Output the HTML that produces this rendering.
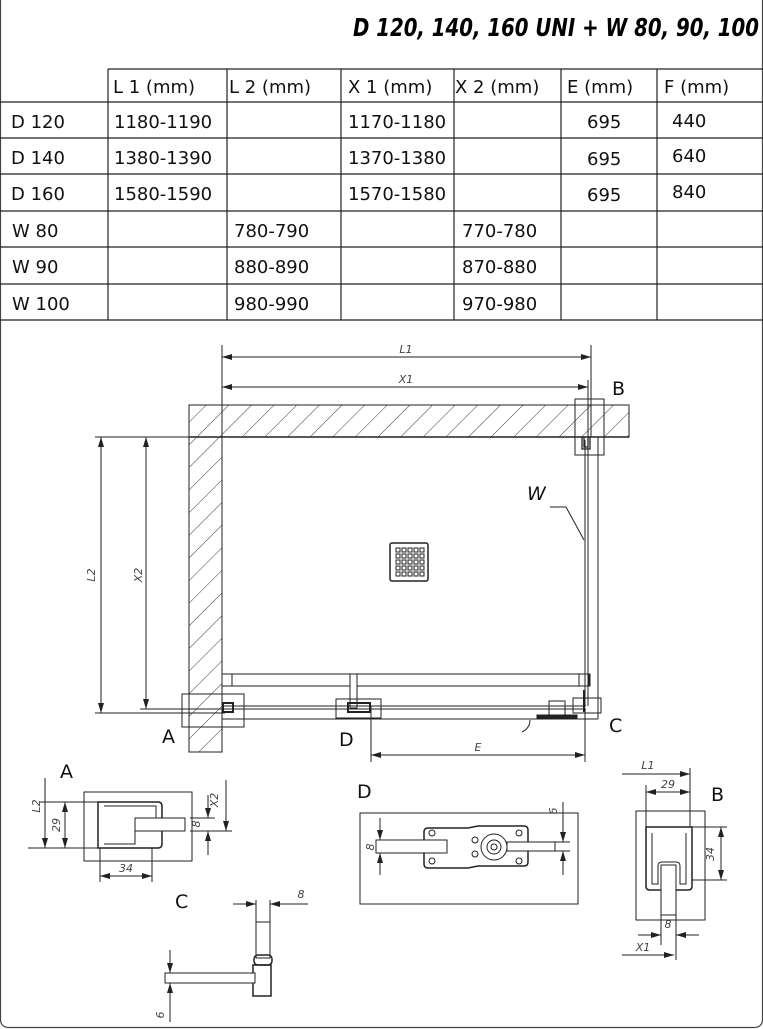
<!DOCTYPE html>
<html><head><meta charset="utf-8"><style>
html,body{margin:0;padding:0;background:#fff;}
svg{display:block;}
text{font-family:"DejaVu Sans","Liberation Sans",sans-serif;}
</style></head><body>
<svg width="763" height="1029" viewBox="0 0 763 1029" xmlns="http://www.w3.org/2000/svg">
<defs>
<pattern id="h" patternUnits="userSpaceOnUse" width="16" height="16" patternTransform="rotate(45)">
<line x1="0" y1="0" x2="0" y2="16" stroke="#222" stroke-width="0.9"/>
</pattern>
<marker id="a" viewBox="0 0 10 6" refX="10" refY="3" markerWidth="10" markerHeight="6" orient="auto-start-reverse" markerUnits="userSpaceOnUse">
<path d="M0,0 L10,3 L0,6 Z" fill="#222"/></marker>
</defs>
<!-- frame -->
<path d="M0.5,0 V1019 Q0.5,1027.5 9,1027.5 H754 Q762.5,1027.5 762.5,1019 V0" fill="none" stroke="#444" stroke-width="1.2"/>
<!-- title -->
<text x="759" y="36" text-anchor="end" font-family="Liberation Sans" font-weight="bold" font-style="italic" font-size="25" textLength="406" lengthAdjust="spacingAndGlyphs">D 120, 140, 160 UNI + W 80, 90, 100</text>
<!-- table -->
<g stroke="#222" stroke-width="1.2">
<line x1="108" y1="69" x2="763" y2="69"/>
<line x1="0" y1="102" x2="763" y2="102"/>
<line x1="0" y1="138" x2="763" y2="138"/>
<line x1="0" y1="174" x2="763" y2="174"/>
<line x1="0" y1="211" x2="763" y2="211"/>
<line x1="0" y1="247" x2="763" y2="247"/>
<line x1="0" y1="284" x2="763" y2="284"/>
<line x1="0" y1="320" x2="763" y2="320"/>
<line x1="108" y1="69" x2="108" y2="320"/>
<line x1="227" y1="69" x2="227" y2="320"/>
<line x1="341" y1="69" x2="341" y2="320"/>
<line x1="454" y1="69" x2="454" y2="320"/>
<line x1="561" y1="69" x2="561" y2="320"/>
<line x1="657" y1="69" x2="657" y2="320"/>
</g>
<g font-size="18" fill="#111">
<text x="113" y="93">L 1 (mm)</text><text x="229" y="93">L 2 (mm)</text><text x="348" y="93">X 1 (mm)</text><text x="455" y="93">X 2 (mm)</text><text x="567" y="93">E  (mm)</text><text x="664" y="93">F  (mm)</text>
<text x="11" y="128">D 120</text><text x="114" y="128">1180-1190</text><text x="348" y="128">1170-1180</text><text x="587" y="128">695</text><text x="672" y="127">440</text>
<text x="11" y="164">D 140</text><text x="114" y="164">1380-1390</text><text x="348" y="164">1370-1380</text><text x="587" y="165">695</text><text x="672" y="162">640</text>
<text x="11" y="200">D 160</text><text x="114" y="200">1580-1590</text><text x="348" y="200">1570-1580</text><text x="587" y="201">695</text><text x="672" y="198">840</text>
<text x="12" y="237">W 80</text><text x="234" y="237">780-790</text><text x="462" y="237">770-780</text>
<text x="12" y="273">W 90</text><text x="234" y="273">880-890</text><text x="462" y="273">870-880</text>
<text x="12" y="310">W 100</text><text x="234" y="310">980-990</text><text x="462" y="310">970-980</text>
</g>
<!-- main plan -->
<g stroke="#222" stroke-width="1" fill="none">
<rect x="189" y="405" width="440" height="32" fill="url(#h)"/>
<rect x="189" y="437" width="33" height="315" fill="url(#h)"/>
<line x1="189" y1="437" x2="629" y2="437" stroke-width="1.5"/>
<line x1="222" y1="405" x2="222" y2="752"/>
<line x1="598" y1="437" x2="598" y2="719"/>
<line x1="222" y1="719" x2="598" y2="719"/>
<!-- dims -->
<line x1="222" y1="345" x2="222" y2="405"/>
<line x1="591" y1="345" x2="591" y2="437"/>
<line x1="588" y1="380" x2="588" y2="437"/>
<line x1="222" y1="357" x2="591" y2="357" marker-start="url(#a)" marker-end="url(#a)"/>
<line x1="222" y1="387" x2="588" y2="387" marker-start="url(#a)" marker-end="url(#a)"/>
<line x1="95" y1="437" x2="189" y2="437"/>
<line x1="95" y1="713" x2="225" y2="713"/>
<line x1="101" y1="437" x2="101" y2="713" marker-start="url(#a)" marker-end="url(#a)"/>
<line x1="146" y1="437" x2="146" y2="709" marker-start="url(#a)" marker-end="url(#a)"/>
<line x1="140" y1="709" x2="225" y2="709"/>
<!-- glass W -->
<line x1="585" y1="440" x2="585" y2="706"/>
<line x1="588" y1="440" x2="588" y2="706"/>
<path d="M582,437 v12 h8 v-12 M584,437 v10 h4 v-10" stroke-width="1.3"/>
<!-- bar -->
<rect x="222" y="674" width="368" height="12"/>
<rect x="222" y="674" width="10" height="12"/>
<rect x="579" y="674" width="10" height="12"/>
<rect x="350" y="674" width="7" height="34" fill="#fff"/>
<!-- sliding glass -->
<line x1="222" y1="706" x2="586" y2="706"/>
<line x1="222" y1="709" x2="586" y2="709"/>
<rect x="223" y="703" width="10" height="9" stroke-width="2"/>
<rect x="348" y="703" width="22" height="9" stroke-width="2"/>
<!-- boxes -->
<rect x="182" y="694" width="62" height="33"/>
<rect x="336" y="699" width="45" height="19"/>
<rect x="573" y="698" width="28" height="15"/>
<rect x="575" y="399" width="29" height="56"/>
<!-- handle -->
<rect x="549" y="701" width="16" height="14"/>
<rect x="537" y="715" width="40" height="3" fill="#222"/>
<line x1="584" y1="690" x2="584" y2="712" stroke-width="2"/>
<!-- E -->
<line x1="371" y1="706" x2="371" y2="762"/>
<line x1="585" y1="709" x2="585" y2="762"/>
<line x1="371" y1="755" x2="585" y2="755" marker-start="url(#a)" marker-end="url(#a)"/>
<!-- drain -->
<rect x="390" y="543" width="38" height="38" rx="2" stroke-width="1.5"/>
<!-- W leader -->
<path d="M550,507 H566 L584,540"/>
<path d="M530,720 q0,8 -8,12" />
</g>
<g fill="none" stroke="#222" stroke-width="1">
<rect x="396" y="548" width="4" height="4"/><rect x="402" y="548" width="4" height="4"/><rect x="408" y="548" width="4" height="4"/><rect x="414" y="548" width="4" height="4"/><rect x="420" y="548" width="4" height="4"/>
<rect x="396" y="554" width="4" height="4"/><rect x="402" y="554" width="4" height="4"/><rect x="408" y="554" width="4" height="4"/><rect x="414" y="554" width="4" height="4"/><rect x="420" y="554" width="4" height="4"/>
<rect x="396" y="560" width="4" height="4"/><rect x="402" y="560" width="4" height="4"/><rect x="408" y="560" width="4" height="4"/><rect x="414" y="560" width="4" height="4"/><rect x="420" y="560" width="4" height="4"/>
<rect x="396" y="566" width="4" height="4"/><rect x="402" y="566" width="4" height="4"/><rect x="408" y="566" width="4" height="4"/><rect x="414" y="566" width="4" height="4"/><rect x="420" y="566" width="4" height="4"/>
<rect x="396" y="572" width="4" height="4"/><rect x="402" y="572" width="4" height="4"/><rect x="408" y="572" width="4" height="4"/><rect x="414" y="572" width="4" height="4"/><rect x="420" y="572" width="4" height="4"/>
</g>
<g font-size="11" font-style="italic" fill="#444">
<text x="406" y="353" text-anchor="middle">L1</text>
<text x="406" y="383" text-anchor="middle">X1</text>
<text x="478" y="751" text-anchor="middle">E</text>
<text transform="translate(95,575) rotate(-90)" text-anchor="middle">L2</text>
<text transform="translate(142,575) rotate(-90)" text-anchor="middle">X2</text>
</g>
<g font-size="19" fill="#111">
<text x="612" y="395">B</text>
<text x="162" y="743">A</text>
<text x="339" y="746">D</text>
<text x="609" y="732">C</text>
<text x="527" y="500" font-style="italic">W</text>
<text x="60" y="778">A</text>
<text x="357" y="798">D</text>
<text x="175" y="908">C</text>
<text x="711" y="801">B</text>
</g>
<!-- Detail A -->
<g fill="none" stroke="#222" stroke-width="1">
<rect x="84" y="792" width="108" height="69"/>
<path d="M98,802 H158 Q162,802 162,806 V844 Q162,848 158,848 H98 Z" stroke-width="1.5"/>
<path d="M104,806 H156 V826 H135 V844 H104" stroke-width="1"/>
<rect x="135" y="818" width="50" height="13" fill="#fff"/>
<line x1="40" y1="802" x2="100" y2="802"/><line x1="28" y1="848" x2="98" y2="848"/>
<line x1="45" y1="778" x2="45" y2="848" marker-end="url(#a)"/>
<line x1="65" y1="802" x2="65" y2="848" marker-start="url(#a)" marker-end="url(#a)"/>
<line x1="190" y1="818" x2="215" y2="818"/><line x1="190" y1="831" x2="232" y2="831"/>
<line x1="226" y1="780" x2="226" y2="831" marker-end="url(#a)"/>
<line x1="208" y1="795" x2="208" y2="818" marker-end="url(#a)"/><line x1="208" y1="855" x2="208" y2="831" marker-end="url(#a)"/>
<line x1="100" y1="848" x2="100" y2="882"/><line x1="152" y1="848" x2="152" y2="882"/>
<line x1="100" y1="876" x2="152" y2="876" marker-start="url(#a)" marker-end="url(#a)"/>
</g>
<!-- Detail D -->
<g fill="none" stroke="#222" stroke-width="1">
<rect x="360" y="813" width="218" height="91"/>
<path d="M428,828 H468 L478,826 H524 Q528,826 528,830 V862 Q528,866 524,866 H478 L468,868 H428 Q424,868 424,864 V832 Q424,828 428,828 Z" stroke-width="1.5"/>
<circle cx="494" cy="847" r="13"/><circle cx="494" cy="847" r="7"/><circle cx="494" cy="847" r="3"/>
<circle cx="519" cy="833" r="3"/><circle cx="519" cy="861" r="3"/><circle cx="432" cy="833" r="3"/><circle cx="432" cy="861" r="3"/>
<circle cx="475" cy="840" r="3"/><circle cx="475" cy="854" r="3"/>
<rect x="376" y="840" width="71" height="13" fill="#fff"/>
<rect x="507" y="842" width="48" height="9" fill="#fff"/>
<line x1="380" y1="818" x2="380" y2="840" marker-end="url(#a)"/><line x1="380" y1="875" x2="380" y2="853" marker-end="url(#a)"/>
<line x1="563" y1="802" x2="563" y2="842" marker-end="url(#a)"/><line x1="563" y1="875" x2="563" y2="851" marker-end="url(#a)"/>
<line x1="555" y1="842" x2="570" y2="842"/><line x1="555" y1="851" x2="570" y2="851"/>
</g>
<!-- Detail C -->
<g fill="none" stroke="#222" stroke-width="1">
<rect x="256" y="922" width="14" height="36"/>
<rect x="254" y="955" width="18" height="10" rx="4" stroke-width="1.5"/>
<path d="M253,965 h18 v31 h-18 z" stroke-width="1.5"/>
<rect x="165" y="973" width="90" height="10" fill="#fff"/>
<line x1="256" y1="900" x2="256" y2="922"/><line x1="270" y1="900" x2="270" y2="922"/>
<line x1="233" y1="904" x2="256" y2="904" marker-end="url(#a)"/><line x1="308" y1="904" x2="270" y2="904" marker-end="url(#a)"/>
<line x1="170" y1="950" x2="170" y2="973" marker-end="url(#a)"/><line x1="170" y1="1022" x2="170" y2="983" marker-end="url(#a)"/>
<line x1="165" y1="973" x2="180" y2="973"/><line x1="165" y1="983" x2="180" y2="983"/>
</g>
<!-- Detail B -->
<g fill="none" stroke="#222" stroke-width="1">
<rect x="636" y="811" width="69" height="109"/>
<path d="M646,827 H692 V886 Q692,890 688,890 H650 Q646,890 646,886 Z" stroke-width="1.5"/>
<path d="M652,833 V884 H658 V866 Q658,862 662,862 H676 Q680,862 680,866 V884 H686 V833" />
<rect x="661" y="865" width="15" height="50" fill="#fff"/>
<line x1="646" y1="785" x2="646" y2="827"/><line x1="690" y1="768" x2="690" y2="827"/>
<line x1="622" y1="774" x2="690" y2="774" marker-end="url(#a)"/>
<line x1="646" y1="792" x2="690" y2="792" marker-start="url(#a)" marker-end="url(#a)"/>
<line x1="692" y1="827" x2="727" y2="827"/><line x1="692" y1="880" x2="727" y2="880"/>
<line x1="721" y1="827" x2="721" y2="880" marker-start="url(#a)" marker-end="url(#a)"/>
<line x1="661" y1="915" x2="661" y2="945"/><line x1="676" y1="915" x2="676" y2="960"/>
<line x1="638" y1="935" x2="661" y2="935" marker-end="url(#a)"/><line x1="699" y1="935" x2="676" y2="935" marker-end="url(#a)"/>
<line x1="622" y1="955" x2="674" y2="955" marker-end="url(#a)"/>
</g>
<g font-size="11" font-style="italic" fill="#444">
<text transform="translate(40,806) rotate(-90)" text-anchor="middle">L2</text>
<text transform="translate(60,825) rotate(-90)" text-anchor="middle">29</text>
<text transform="translate(218,800) rotate(-90)" text-anchor="middle">X2</text>
<text transform="translate(200,824) rotate(-90)" text-anchor="middle">8</text>
<text x="126" y="872" text-anchor="middle">34</text>
<text transform="translate(374,847) rotate(-90)" text-anchor="middle">8</text>
<text transform="translate(557,811) rotate(-90)" text-anchor="middle">6</text>
<text x="301" y="898" text-anchor="middle">8</text>
<text transform="translate(164,1015) rotate(-90)" text-anchor="middle">6</text>
<text x="648" y="769" text-anchor="middle">L1</text>
<text x="668" y="788" text-anchor="middle">29</text>
<text transform="translate(714,854) rotate(-90)" text-anchor="middle">34</text>
<text x="668" y="928" text-anchor="middle">8</text>
<text x="643" y="951" text-anchor="middle">X1</text>
</g>
</svg>
</body></html>
